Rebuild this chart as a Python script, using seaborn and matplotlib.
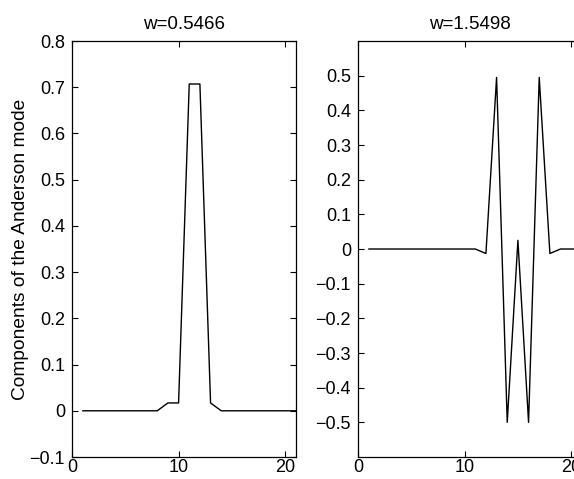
import numpy as np
import pandas as pd
import matplotlib
matplotlib.use("Agg")
import matplotlib.pyplot as plt
import seaborn as sns

# site index along the chain
sites = list(range(1, 22))

# mode for w=0.5466
mode_low = [0, 0, 0, 0, 0, 0, 0, 0, 0.017, 0.017, 0.707, 0.707, 0.017,
            0, 0, 0, 0, 0, 0, 0, 0]
# mode for w=1.5498
mode_high = [0, 0, 0, 0, 0, 0, 0, 0, 0, 0, 0, -0.013, 0.495, -0.5, 0.025,
             -0.5, 0.495, -0.013, 0, 0, 0]

titles = ["w=0.5466", "w=1.5498"]
low_yticks = [-0.1, 0, 0.1, 0.2, 0.3, 0.4, 0.5, 0.6, 0.7, 0.8]
high_yticks = [-0.5, -0.4, -0.3, -0.2, -0.1, 0, 0.1, 0.2, 0.3, 0.4, 0.5]
xticks = [0, 10, 20]


def fmt(v):
    if v == 0:
        return "0"
    if v < 0:
        return "\u2212" + f"{abs(v):.1f}"
    return f"{v:.1f}"


sns.set_style("ticks")
plt.rcParams["font.family"] = ["Liberation Sans", "DejaVu Sans"]
plt.rcParams["axes.linewidth"] = 0.9

fig = plt.figure(figsize=(5.74, 4.79), dpi=100)
ax1 = fig.add_axes([0.1254, 0.0459, 0.390, 0.8685])
ax2 = fig.add_axes([0.6237, 0.0459, 0.390, 0.8685])

df_low = pd.DataFrame({"site": sites, "value": mode_low})
df_high = pd.DataFrame({"site": sites, "value": mode_high})

sns.lineplot(data=df_low, x="site", y="value", ax=ax1, color="black", lw=1.0)
sns.lineplot(data=df_high, x="site", y="value", ax=ax2, color="black", lw=1.0)

ax1.set_xlim(0, 21)
ax1.set_ylim(-0.1, 0.8)
ax1.set_yticks(low_yticks)
ax1.set_yticklabels([fmt(v) for v in low_yticks])

ax2.set_xlim(0, 21)
ax2.set_ylim(-0.6, 0.6)
ax2.set_yticks(high_yticks)
ax2.set_yticklabels([fmt(v) for v in high_yticks])

for ax, t in zip([ax1, ax2], titles):
    ax.set_xticks(xticks)
    ax.set_xticklabels([str(v) for v in xticks])
    ax.tick_params(direction="in", length=4, width=0.8, top=True, right=True,
                   labelsize=13, colors="black")
    ax.tick_params(axis="y", pad=5)
    ax.tick_params(axis="x", pad=1.5)
    ax.set_title(t, fontsize=13.5, pad=9, color="black")
    ax.set_xlabel("")
    ax.set_ylabel("")
    for s in ax.spines.values():
        s.set_visible(True)
        s.set_color("black")

ax1.set_ylabel("Components of the Anderson mode", fontsize=13.8, color="black")
ax1.yaxis.set_label_coords(-0.192, 0.5)

fig.savefig("out.png", dpi=100)
